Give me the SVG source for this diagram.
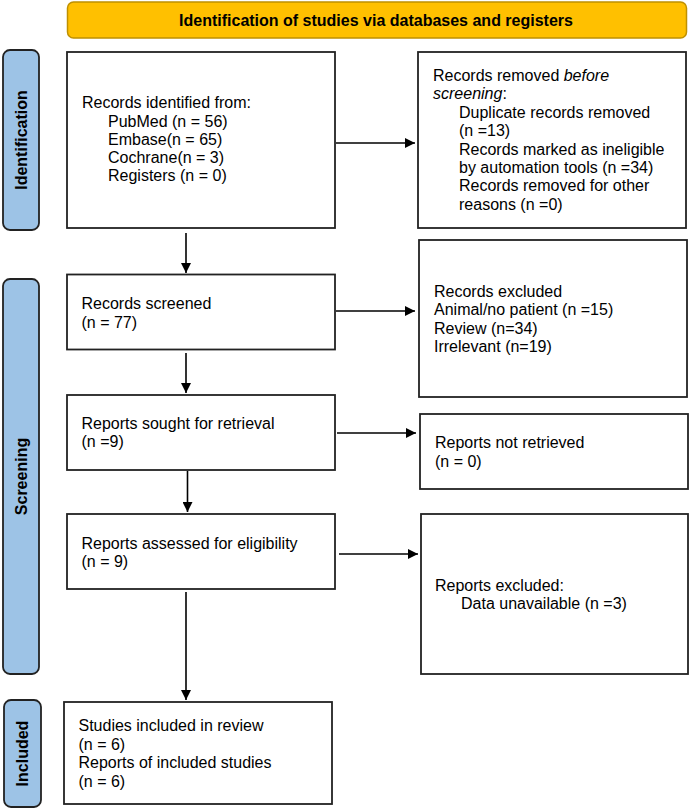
<svg xmlns="http://www.w3.org/2000/svg" width="690" height="810" viewBox="0 0 690 810">
<defs>
<marker id="ah" viewBox="0 0 10 10" refX="10" refY="5" markerWidth="10" markerHeight="10" markerUnits="userSpaceOnUse" orient="auto">
<path d="M0,0 L10,5 L0,10 z" fill="#000"/>
</marker>
</defs>
<style>
.box{fill:#fff;stroke:#222;stroke-width:1.8}
.lab{fill:#9DC3E6;stroke:#222;stroke-width:1.8}
.t{font-family:"Liberation Sans",Arial,sans-serif;font-size:16px;fill:#000}
.b{font-family:"Liberation Sans",Arial,sans-serif;font-size:16px;font-weight:bold;fill:#000}
.c{stroke:#000;stroke-width:1.6;fill:none;marker-end:url(#ah)}
</style>
<rect width="690" height="810" fill="#fff"/>
<g id="banner">
<rect x="67.5" y="2" width="619" height="36" rx="6" fill="#FFC000" stroke="#BF9000" stroke-width="1.5"/>
<text class="b" x="376" y="26" text-anchor="middle">Identification of studies via databases and registers</text>
</g>
<g id="label-identification">
<rect class="lab" x="3" y="50" width="36" height="180" rx="7"/>
<text class="b" transform="translate(27,140) rotate(-90)" text-anchor="middle">Identification</text>
</g>
<g id="label-screening">
<rect class="lab" x="3" y="279" width="36" height="395" rx="7"/>
<text class="b" transform="translate(27,476.5) rotate(-90)" text-anchor="middle">Screening</text>
</g>
<g id="label-included">
<rect class="lab" x="4" y="700" width="37" height="107" rx="7"/>
<text class="b" transform="translate(28,753.5) rotate(-90)" text-anchor="middle">Included</text>
</g>
<g id="records-identified">
<rect class="box" x="67" y="52" width="268" height="176"/>
<text class="t" x="82" y="108.3">Records identified from:</text>
<text class="t" x="108" y="126.5">PubMed (n = 56)</text>
<text class="t" x="108" y="144.7">Embase(n = 65)</text>
<text class="t" x="108" y="163">Cochrane(n = 3)</text>
<text class="t" x="108" y="181.2">Registers (n = 0)</text>
</g>
<g id="records-removed">
<rect class="box" x="418" y="52" width="268" height="176"/>
<text class="t" x="433" y="81">Records removed <tspan font-style="italic">before</tspan></text>
<text class="t" x="433" y="99.4"><tspan font-style="italic">screening</tspan>:</text>
<text class="t" x="459" y="117.8">Duplicate records removed</text>
<text class="t" x="459" y="136.2">(n =13)</text>
<text class="t" x="459" y="154.6">Records marked as ineligible</text>
<text class="t" x="459" y="173">by automation tools (n =34)</text>
<text class="t" x="459" y="191.4">Records removed for other</text>
<text class="t" x="459" y="209.8">reasons (n =0)</text>
</g>
<g id="records-screened">
<rect class="box" x="67" y="274.5" width="268" height="75"/>
<text class="t" x="81.5" y="309">Records screened</text>
<text class="t" x="81.5" y="327.5">(n = 77)</text>
</g>
<g id="records-excluded">
<rect class="box" x="419" y="240" width="268" height="157"/>
<text class="t" x="434" y="297">Records excluded</text>
<text class="t" x="434" y="315.4">Animal/no patient (n =15)</text>
<text class="t" x="434" y="333.8">Review (n=34)</text>
<text class="t" x="434" y="352.2">Irrelevant (n=19)</text>
</g>
<g id="reports-sought">
<rect class="box" x="67" y="395" width="268" height="75"/>
<text class="t" x="81.5" y="429">Reports sought for retrieval</text>
<text class="t" x="81.5" y="447.4">(n =9)</text>
</g>
<g id="reports-not-retrieved">
<rect class="box" x="420" y="414" width="268" height="75"/>
<text class="t" x="435" y="448.3">Reports not retrieved</text>
<text class="t" x="435" y="466.7">(n = 0)</text>
</g>
<g id="reports-assessed">
<rect class="box" x="67" y="514" width="268" height="75"/>
<text class="t" x="81.5" y="549">Reports assessed for eligibility</text>
<text class="t" x="81.5" y="567.4">(n = 9)</text>
</g>
<g id="reports-excluded">
<rect class="box" x="421" y="514" width="267" height="160"/>
<text class="t" x="435" y="591">Reports excluded:</text>
<text class="t" x="461" y="609.4">Data unavailable (n =3)</text>
</g>
<g id="studies-included">
<rect class="box" x="64" y="702" width="268" height="102"/>
<text class="t" x="78.5" y="731">Studies included in review</text>
<text class="t" x="78.5" y="749.6">(n = 6)</text>
<text class="t" x="78.5" y="768.2">Reports of included studies</text>
<text class="t" x="78.5" y="786.8">(n = 6)</text>
</g>
<g id="connectors">
<line class="c" x1="336" y1="143" x2="415" y2="143"/>
<line class="c" x1="186" y1="233" x2="186" y2="273"/>
<line class="c" x1="336" y1="311" x2="415" y2="311"/>
<line class="c" x1="186" y1="353" x2="186" y2="393"/>
<line class="c" x1="337" y1="433" x2="416" y2="433"/>
<line class="c" x1="187.5" y1="471" x2="187.5" y2="512"/>
<line class="c" x1="339" y1="554" x2="418" y2="554"/>
<line class="c" x1="186" y1="592" x2="186" y2="700"/>
</g>
</svg>
